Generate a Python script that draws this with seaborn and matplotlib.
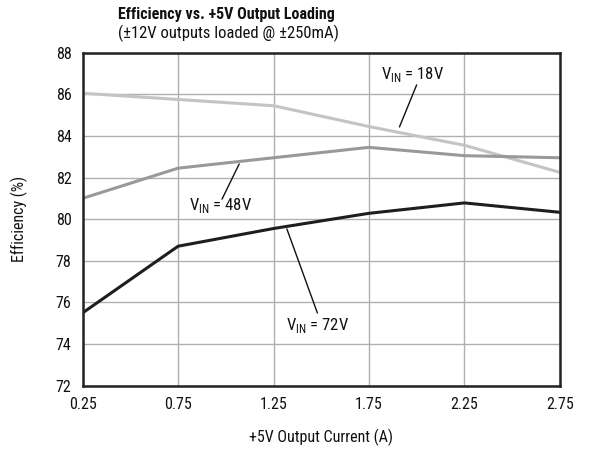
import matplotlib
matplotlib.use("Agg")
import matplotlib.pyplot as plt
import seaborn as sns
import pandas as pd

current = [0.25, 0.75, 1.25, 1.75, 2.25, 2.75]
eff_18v = [86.05, 85.75, 85.45, 84.45, 83.55, 82.25]
eff_48v = [81.0, 82.45, 82.95, 83.45, 83.05, 82.95]
eff_72v = [75.5, 78.7, 79.55, 80.28, 80.78, 80.33]
series_names = ["18V", "48V", "72V"]
x_ticks = [0.25, 0.75, 1.25, 1.75, 2.25, 2.75]
x_tick_labels = ["0.25", "0.75", "1.25", "1.75", "2.25", "2.75"]
y_ticks = [72, 74, 76, 78, 80, 82, 84, 86, 88]

df = pd.DataFrame({
    "current": current * 3,
    "eff": eff_18v + eff_48v + eff_72v,
    "vin": [series_names[0]] * 6 + [series_names[1]] * 6 + [series_names[2]] * 6,
})

sns.set_theme(style="white")
fam = ["Roboto Condensed", "Archivo Narrow", "PT Sans Narrow",
       "Liberation Sans Narrow", "Liberation Sans", "DejaVu Sans"]
plt.rcParams["font.family"] = fam

fig = plt.figure(figsize=(6.1, 4.5), dpi=100)
ax = fig.add_axes([0.1356, 0.143, 0.782, 0.74])

palette = {"18V": "#c4c4c4", "48V": "#999999", "72V": "#1e1e1e"}
sns.lineplot(data=df, x="current", y="eff", hue="vin", palette=palette,
             linewidth=2.2, legend=False, ax=ax)

ax.set_xlim(0.25, 2.75)
ax.set_ylim(72, 88)
ax.set_xticks(x_ticks)
ax.set_xticklabels(x_tick_labels)
ax.set_yticks(y_ticks)
ax.grid(True, color="#b0b0b0", linewidth=1.0)
ax.set_axisbelow(True)
for s in ax.spines.values():
    s.set_color("#222222")
    s.set_linewidth(1.8)
ax.tick_params(axis="both", labelsize=11.5, colors="#111111", length=0, pad=8)
ax.set_xlabel("+5V Output Current (A)", fontsize=11.5, labelpad=12, color="#111111")
ax.set_ylabel("Efficiency (%)", fontsize=11.5, labelpad=20, color="#111111")

lab_kw = dict(fontsize=12, color="#111111", ha="center", va="center")
ax.text(1.98, 86.93, r"V$_{\mathregular{IN}}$ = 18V", **lab_kw)
ax.text(0.975, 80.67, r"V$_{\mathregular{IN}}$ = 48V", **lab_kw)
ax.text(1.48, 74.9, r"V$_{\mathregular{IN}}$ = 72V", **lab_kw)
ax.plot([2.0, 1.91], [86.45, 84.43], color="#111111", linewidth=1)
ax.plot([0.98, 1.07], [80.96, 82.65], color="#111111", linewidth=1)
ax.plot([1.32, 1.48], [79.53, 75.49], color="#111111", linewidth=1)

fig.text(0.193, 0.968, "Efficiency vs. +5V Output Loading", fontsize=11.5,
         fontweight="bold", ha="left", va="center", color="#111111")
fig.text(0.193, 0.925, "(±12V outputs loaded @ ±250mA)", fontsize=12,
         ha="left", va="center", color="#111111")

fig.savefig("out.png", dpi=100)
